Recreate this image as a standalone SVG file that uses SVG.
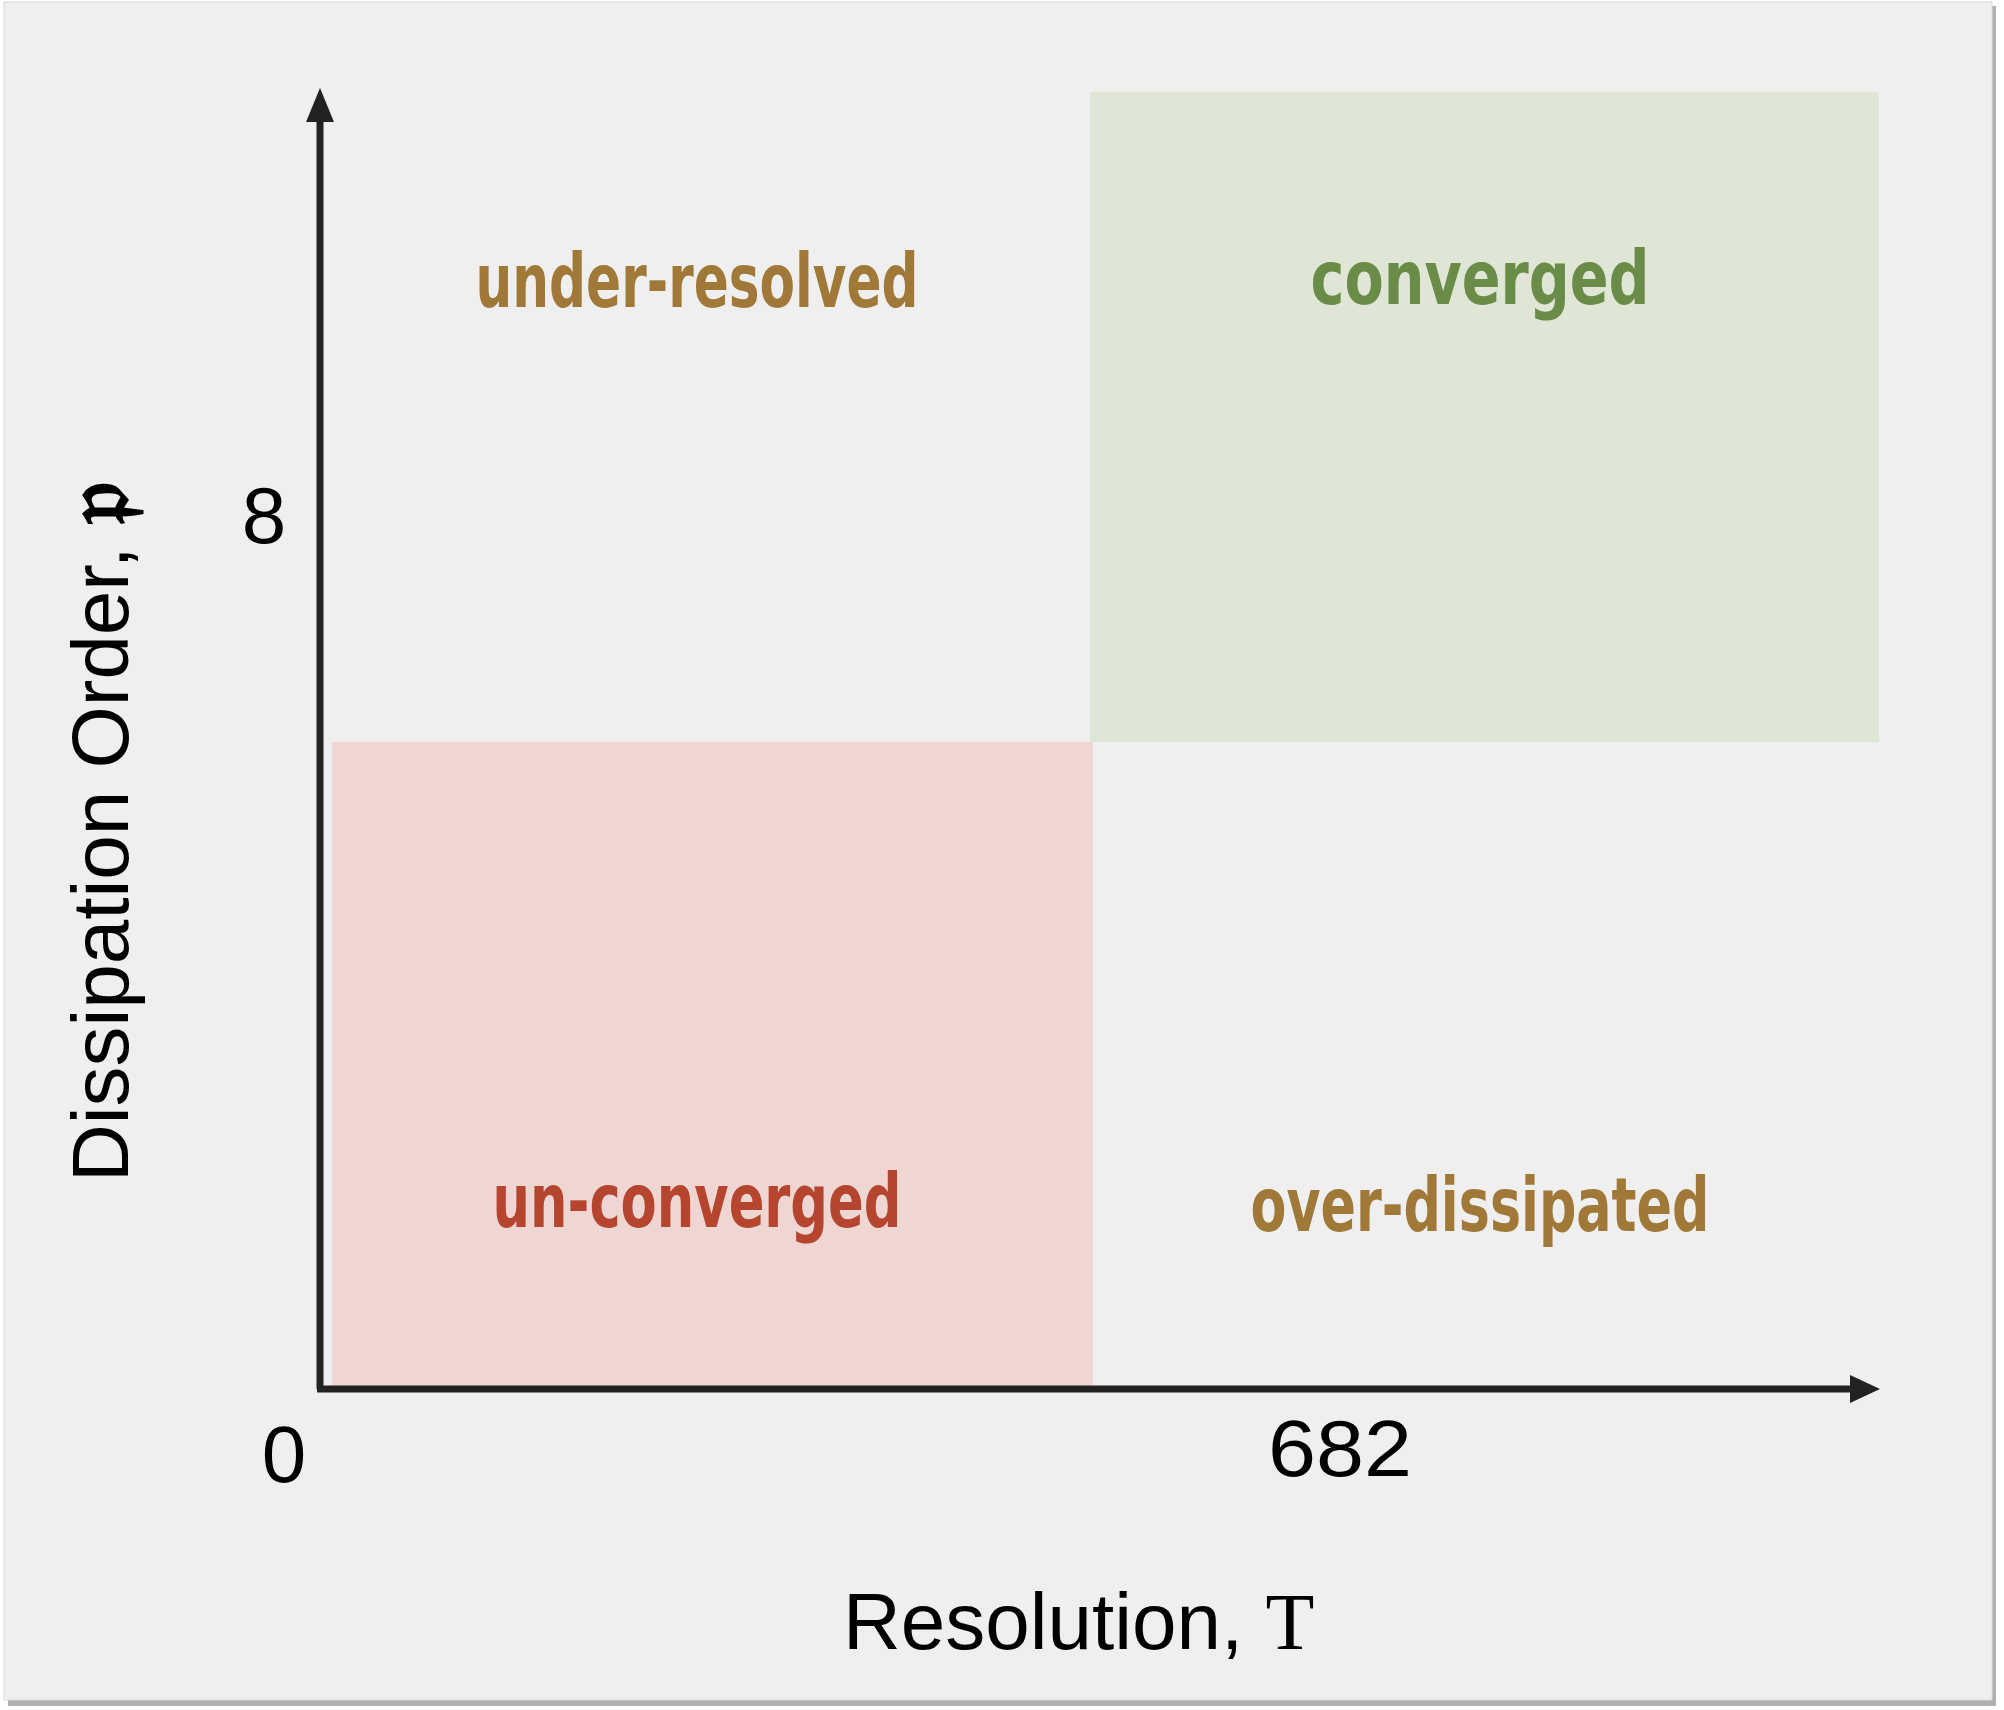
<svg xmlns="http://www.w3.org/2000/svg" width="2004" height="1710" viewBox="0 0 2004 1710">
<defs>
<style>
.ax{stroke:#222;stroke-width:7;fill:none}
.head{fill:#222}
.lbl{font-family:"DejaVu Sans Condensed","DejaVu Sans",sans-serif;font-weight:bold;font-size:74px}
.num{font-family:"Liberation Sans",Arial,sans-serif;font-size:80px;fill:#000}
.title{font-family:"Liberation Sans",Arial,sans-serif;font-size:80px;fill:#000}
</style>
</defs>
<rect x="0" y="0" width="2004" height="1710" fill="#ffffff"/>
<rect x="8" y="6" width="1988" height="1700" fill="#b0b0b0"/>
<rect x="4" y="2" width="1988" height="1698" fill="#efefef" stroke="#d8d8d8" stroke-width="1"/>

<g id="region-converged">
<rect x="1090" y="92" width="789" height="650" fill="#dfe6d6"/>
<text class="lbl" x="1480" y="304" text-anchor="middle" fill="#6a8c48" textLength="339" lengthAdjust="spacingAndGlyphs">converged</text>
</g>
<g id="region-unconverged">
<rect x="332" y="742" width="761" height="646" fill="#efd6d3"/>
<text class="lbl" x="697" y="1227" text-anchor="middle" fill="#b5452f" textLength="409" lengthAdjust="spacingAndGlyphs">un-converged</text>
</g>
<g id="region-underresolved">
<text class="lbl" x="697" y="307" text-anchor="middle" fill="#a07838" textLength="443" lengthAdjust="spacingAndGlyphs">under-resolved</text>
</g>
<g id="region-overdissipated">
<text class="lbl" x="1480" y="1231" text-anchor="middle" fill="#a07838" textLength="459" lengthAdjust="spacingAndGlyphs">over-dissipated</text>
</g>

<g id="axes">
<line class="ax" x1="320" y1="1389" x2="320" y2="120"/>
<polygon class="head" points="320,88 306,122 334,122"/>
<line class="ax" x1="317" y1="1389" x2="1852" y2="1389"/>
<polygon class="head" points="1880,1389 1850,1375 1850,1403"/>
</g>

<g id="ticks">
<text class="num" x="264" y="543" text-anchor="middle" font-size="72">8</text>
<text class="num" x="284" y="1482" text-anchor="middle">0</text>
<text class="num" x="1340" y="1476" text-anchor="middle" textLength="144" lengthAdjust="spacingAndGlyphs">682</text>
</g>

<g id="axis-titles">
<text class="title" x="843" y="1649">Resolution, <tspan font-family="Liberation Serif,'Times New Roman',serif">T</tspan></text>
<text class="title" transform="translate(128,1182) rotate(-90)" x="0" y="0">Dissipation Order, <tspan font-family="'DejaVu Serif','Noto Sans',serif" font-size="92" font-weight="bold">𝔭</tspan></text>
</g>
</svg>
